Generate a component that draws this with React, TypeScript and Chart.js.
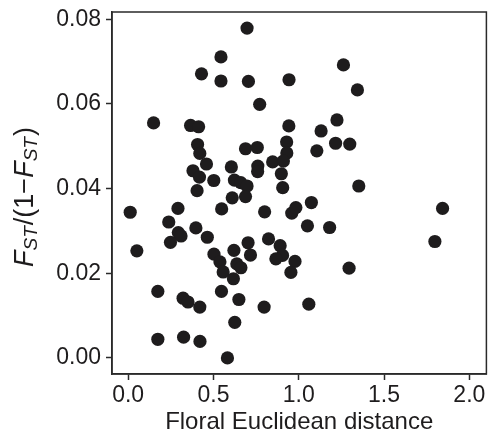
import React, { useEffect, useRef } from "react";
import { Chart, registerables } from "chart.js";

Chart.register(...registerables);

const xValues = [
  0.697, 0.544, 0.43, 0.544, 0.705, 0.943, 0.771, 0.149, 0.366, 0.413,
  0.942, 0.407, 0.42, 0.688, 0.757, 0.929, 0.93, 0.459, 0.605, 0.76,
  0.759, 0.847, 0.91, 0.38, 0.418, 0.502, 0.623, 0.66, 0.697, 0.898,
  0.906, 0.404, 0.61, 0.688, 1.262, 1.344, 1.224, 1.131, 1.216, 1.299,
  1.106, 1.352, 1.074, 0.012, 0.292, 0.548, 0.8, 0.959, 0.983, 0.238,
  0.294, 0.31, 0.397, 0.464, 0.248, 0.051, 0.503, 0.538, 0.557, 0.617,
  0.62, 0.703, 0.717, 0.637, 0.661, 0.823, 0.891, 0.905, 0.866, 0.978,
  0.954, 0.174, 0.322, 0.351, 0.42, 0.547, 0.649, 0.797, 0.625, 0.174,
  0.325, 0.421, 0.582, 1.051, 1.181, 1.843, 1.798, 1.295, 1.059,
];

const yValues = [
  0.0779, 0.0711, 0.0671, 0.0654, 0.0653, 0.0657, 0.0599, 0.0555, 0.0549, 0.0546,
  0.0548, 0.0504, 0.0483, 0.0494, 0.0497, 0.051, 0.0484, 0.0458, 0.0451, 0.0453,
  0.044, 0.0463, 0.0465, 0.0442, 0.0427, 0.0419, 0.042, 0.0414, 0.0406, 0.0435,
  0.0402, 0.0395, 0.0378, 0.0381, 0.0692, 0.0633, 0.0562, 0.0536, 0.0507, 0.0505,
  0.0489, 0.0406, 0.0367, 0.0344, 0.0353, 0.0352, 0.0345, 0.0342, 0.0355, 0.0321,
  0.0296, 0.0288, 0.0307, 0.0285, 0.0273, 0.0253, 0.0245, 0.0227, 0.0203, 0.0187,
  0.0254, 0.0272, 0.0243, 0.0222, 0.0213, 0.0281, 0.0265, 0.0242, 0.0234, 0.0228,
  0.0202, 0.0157, 0.0141, 0.0132, 0.012, 0.0157, 0.0138, 0.012, 0.0084, 0.0044,
  0.0049, 0.0039, 0.0, 0.0312, 0.0308, 0.0353, 0.0275, 0.0212, 0.0127,
];

const xTickValues = [0, 0.5, 1, 1.5, 2];
const xTickLabels = ["0.0", "0.5", "1.0", "1.5", "2.0"];
const yTickValues = [0, 0.02, 0.04, 0.06, 0.08];
const yTickLabels = ["0.00", "0.02", "0.04", "0.06", "0.08"];

const xTitle = "Floral Euclidean distance";
// y title pieces: [text, italic, subscript]
const yTitleParts: [string, boolean, boolean][] = [
  ["F", true, false],
  ["ST", true, true],
  ["/(1\u2212", false, false],
  ["F", true, false],
  ["ST", true, true],
  [")", false, false],
];

const FONT = "'Liberation Sans', Arial, Helvetica, sans-serif";
const INK = "#1e1c1d";

const frameAndTitle = {
  id: "frameAndTitle",
  afterDraw(chart: any) {
    const ctx = chart.ctx as CanvasRenderingContext2D;
    const a = chart.chartArea;
    ctx.save();
    ctx.strokeStyle = "#2a2a2a";
    ctx.lineWidth = 1.5;
    ctx.strokeRect(a.left, a.top, a.right - a.left, a.bottom - a.top);
    ctx.restore();

    // y axis title with italic subscript parts
    const mainSize = 27;
    const subSize = 19;
    ctx.save();
    ctx.fillStyle = INK;
    ctx.textBaseline = "alphabetic";
    ctx.textAlign = "left";
    const fontFor = (it: boolean, sub: boolean) =>
      `${it ? "italic " : ""}${sub ? subSize : mainSize}px ${FONT}`;
    let total = 0;
    const widths = yTitleParts.map(([t, it, sub]) => {
      ctx.font = fontFor(it, sub);
      const w = ctx.measureText(t).width;
      total += w + (sub ? 1 : 0);
      return w;
    });
    const cy = (a.top + a.bottom) / 2 + 4;
    const baseX = 33;
    ctx.translate(baseX, cy);
    ctx.rotate(-Math.PI / 2);
    let pos = -total / 2;
    yTitleParts.forEach(([t, it, sub], i) => {
      ctx.font = fontFor(it, sub);
      ctx.fillText(t, pos, sub ? 4 : 0);
      pos += widths[i] + (sub ? 1 : 0);
    });
    ctx.restore();
  },
};

export default function App() {
  const ref = useRef<HTMLCanvasElement>(null);

  useEffect(() => {
    if (!ref.current) return;
    const points = xValues.map((x, i) => ({ x, y: yValues[i] }));
    const chart = new Chart(ref.current, {
      type: "scatter",
      data: {
        datasets: [
          {
            data: points,
            backgroundColor: INK,
            borderWidth: 0,
            pointRadius: 6.6,
            pointHoverRadius: 6.6,
          },
        ],
      },
      options: {
        animation: false,
        responsive: false,
        events: [],
        layout: { padding: { left: 0, right: 3, top: 12, bottom: 0 } },
        plugins: {
          legend: { display: false },
          tooltip: { enabled: false },
          title: { display: false },
        },
        scales: {
          x: {
            type: "linear",
            min: -0.0947,
            max: 2.1,
            afterBuildTicks: (s: any) => {
              s.ticks = xTickValues.map((v) => ({ value: v }));
            },
            afterFit: (s: any) => {
              s.height = 63;
              s.paddingLeft = 0;
              s.paddingRight = 0;
            },
            grid: {
              drawOnChartArea: false,
              drawTicks: true,
              tickLength: 6,
              tickWidth: 1.5,
              tickColor: "#2a2a2a",
            },
            border: { display: true, color: "#2a2a2a", width: 1.5 },
            ticks: {
              color: INK,
              font: { family: FONT, size: 23 },
              padding: 2,
              maxRotation: 0,
              callback: (v: any) => {
                const i = xTickValues.indexOf(Number(v));
                return i >= 0 ? xTickLabels[i] : "";
              },
            },
            title: {
              display: true,
              text: xTitle,
              color: INK,
              font: { family: FONT, size: 24 },
              padding: { top: 0, bottom: 0 },
            },
          },
          y: {
            type: "linear",
            min: -0.0038,
            max: 0.0817,
            afterBuildTicks: (s: any) => {
              s.ticks = yTickValues.map((v) => ({ value: v }));
            },
            afterFit: (s: any) => {
              s.width = 112;
              s.paddingTop = 0;
              s.paddingBottom = 0;
            },
            grid: {
              drawOnChartArea: false,
              drawTicks: true,
              tickLength: 6,
              tickWidth: 1.5,
              tickColor: "#2a2a2a",
            },
            border: { display: true, color: "#2a2a2a", width: 1.5 },
            ticks: {
              color: INK,
              font: { family: FONT, size: 23 },
              padding: 5,
              callback: (v: any) => {
                const i = yTickValues.indexOf(Number(v));
                return i >= 0 ? yTickLabels[i] : "";
              },
            },
            title: { display: false },
          },
        },
      },
      plugins: [frameAndTitle],
    });
    return () => chart.destroy();
  }, []);

  return (
    <div style={{ position: "absolute", left: 0, top: 0, width: 493, height: 437, background: "#fff" }}>
      <canvas ref={ref} width={493} height={437} style={{ display: "block" }} />
    </div>
  );
}
